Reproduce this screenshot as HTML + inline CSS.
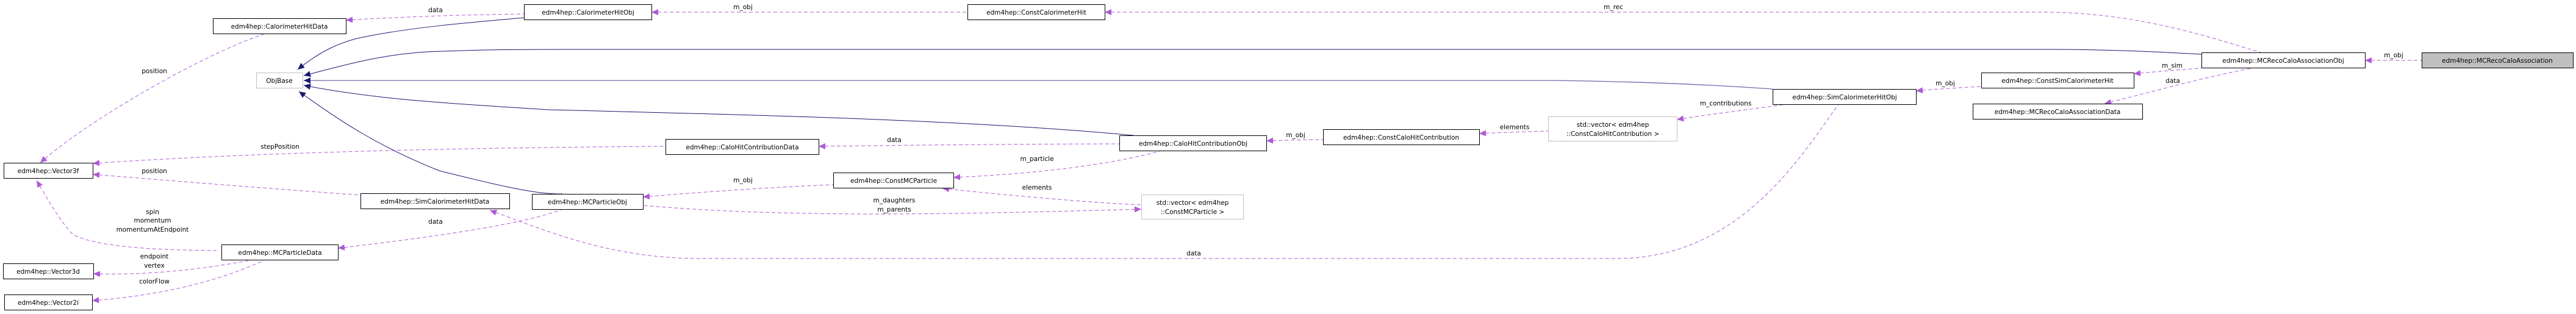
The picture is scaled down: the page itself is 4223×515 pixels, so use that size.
<!DOCTYPE html>
<html><head><meta charset="utf-8"><style>
html,body{margin:0;padding:0;background:#fff;}
svg{display:block;}
text{font-family:"DejaVu Sans","Liberation Sans",sans-serif;font-size:10.5px;fill:#000;}
.n{fill:#fff;stroke:#000;stroke-width:1;}
.g{fill:#fff;stroke:#bfbfbf;stroke-width:1;}
.p{fill:none;stroke:#9a32cd;stroke-width:1;stroke-dasharray:6,4;opacity:.8;}
.b{fill:none;stroke:#191970;stroke-width:1;}
</style></head><body>
<svg width="4223" height="515" viewBox="0 0 4223 515" xmlns="http://www.w3.org/2000/svg">
<defs>
<marker id="pa" markerUnits="userSpaceOnUse" markerWidth="12" markerHeight="10" refX="0" refY="5" orient="auto"><path d="M0,5 L11,0 L11,10 Z" fill="#9a32cd"/></marker>
<marker id="ba" markerUnits="userSpaceOnUse" markerWidth="12" markerHeight="10" refX="0" refY="5" orient="auto"><path d="M0,5 L11,0 L11,10 Z" fill="#191970"/></marker>
</defs>

<path class="b" marker-start="url(#ba)" d="M488,114 C520,88 555,68 600,60 C680,44 780,36 859,29"/>
<path class="b" marker-start="url(#ba)" d="M498,124 C560,108 620,90 700,85 C800,81 850,81 950,81 L3350,81 C3450,81 3520,84 3609,89"/>
<path style="fill:none;stroke:#6b6baa;stroke-width:1.3" marker-start="url(#ba)" d="M498,132 L2550,132 C2700,134 2820,140 2906,146"/>
<path class="b" marker-start="url(#ba)" d="M498,140 C600,160 700,168 900,180 C1300,190 1600,198 1858,222"/>
<path class="b" marker-start="url(#ba)" d="M490,150 C560,200 620,240 720,280 C800,300 880,320 922,318"/>

<path class="p" marker-start="url(#pa)" d="M567,33 C650,28 760,24 859,23"/>
<path class="p" marker-start="url(#pa)" d="M1068,20 L1586,20"/>
<path class="p" marker-start="url(#pa)" d="M66,267 C140,200 330,90 435,55"/>
<path class="p" marker-start="url(#pa)" d="M152,268 C450,248 800,242 1091,240"/>
<path class="p" marker-start="url(#pa)" d="M152,286 C300,298 450,310 591,320"/>
<path class="p" marker-start="url(#pa)" d="M60,296 C80,330 100,365 120,385 C160,405 250,410 355,411"/>
<path class="p" marker-start="url(#pa)" d="M153,449 C250,452 340,440 410,427"/>
<path class="p" marker-start="url(#pa)" d="M151,493 C250,486 350,465 433,427"/>
<path class="p" marker-start="url(#pa)" d="M554,407 C700,390 860,368 922,343"/>
<path class="p" marker-start="url(#pa)" d="M1054,323 C1150,315 1280,306 1366,303"/>
<path class="p" marker-start="url(#pa)" d="M1871,343 C1700,348 1560,351 1420,351 C1250,350 1150,345 1054,337"/>
<path class="p" marker-start="url(#pa)" d="M1545,309 C1650,320 1780,332 1871,336"/>
<path class="p" marker-start="url(#pa)" d="M1563,291 C1700,285 1820,270 1901,248"/>
<path class="p" marker-start="url(#pa)" d="M1342,240 C1500,238 1700,236 1835,236"/>
<path class="p" marker-start="url(#pa)" d="M2076,231 C2110,230 2140,229 2169,229"/>
<path class="p" marker-start="url(#pa)" d="M2425,219 C2470,217 2500,216 2538,215"/>
<path class="p" marker-start="url(#pa)" d="M2749,196 C2820,185 2880,178 2928,171"/>
<path class="p" marker-start="url(#pa)" d="M803,345 C900,380 1000,424 1150,424 L2650,424 C2850,424 2950,260 3014,171"/>
<path class="p" marker-start="url(#pa)" d="M3141,149 C3180,146 3220,143 3248,142"/>
<path class="p" marker-start="url(#pa)" d="M3498,121 C3540,117 3580,114 3615,111"/>
<path class="p" marker-start="url(#pa)" d="M3450,170 C3530,150 3620,125 3696,111"/>
<path class="p" marker-start="url(#pa)" d="M1811,20 L3350,20 C3500,20 3620,60 3706,86"/>
<path class="p" marker-start="url(#pa)" d="M3877,99 L3970,99"/>

<g text-anchor="middle">
<text x="714" y="20">data</text>
<text x="1218" y="15">m_obj</text>
<text x="2645" y="15">m_rec</text>
<text x="253" y="120">position</text>
<text x="459" y="244">stepPosition</text>
<text x="253" y="284">position</text>
<text x="250" y="351">spin</text>
<text x="250" y="365">momentum</text>
<text x="250" y="380">momentumAtEndpoint</text>
<text x="714" y="367">data</text>
<text x="253" y="424">endpoint</text>
<text x="253" y="439">vertex</text>
<text x="253" y="465">colorFlow</text>
<text x="1466" y="233">data</text>
<text x="1218" y="299">m_obj</text>
<text x="1466" y="332">m_daughters</text>
<text x="1466" y="347">m_parents</text>
<text x="1700" y="264">m_particle</text>
<text x="1700" y="311">elements</text>
<text x="1957" y="419">data</text>
<text x="2124" y="225">m_obj</text>
<text x="2483" y="212">elements</text>
<text x="2829" y="173">m_contributions</text>
<text x="3189" y="140">m_obj</text>
<text x="3561" y="111">m_sim</text>
<text x="3562" y="136">data</text>
<text x="3924" y="94">m_obj</text>
</g>

<g text-anchor="middle">
<rect class="n" x="349.5" y="30.5" width="218" height="25"/><text x="458" y="47">edm4hep::CalorimeterHitData</text>
<rect class="g" x="420.5" y="119.5" width="76" height="25"/><text x="458" y="136">ObjBase</text>
<rect class="n" x="6.5" y="267.5" width="146" height="25"/><text x="79" y="284">edm4hep::Vector3f</text>
<rect class="n" x="591.5" y="317.5" width="244" height="25"/><text x="713" y="334">edm4hep::SimCalorimeterHitData</text>
<rect class="n" x="363.5" y="401.5" width="191" height="25"/><text x="459" y="418">edm4hep::MCParticleData</text>
<rect class="n" x="5.5" y="432.5" width="148" height="25"/><text x="79" y="449">edm4hep::Vector3d</text>
<rect class="n" x="7.5" y="483.5" width="144" height="25"/><text x="79" y="500">edm4hep::Vector2i</text>
<rect class="n" x="859.5" y="7.5" width="209" height="25"/><text x="964" y="24">edm4hep::CalorimeterHitObj</text>
<rect class="n" x="1586.5" y="7.5" width="225" height="25"/><text x="1699" y="24">edm4hep::ConstCalorimeterHit</text>
<rect class="n" x="1091.5" y="228.5" width="251" height="25"/><text x="1217" y="245">edm4hep::CaloHitContributionData</text>
<rect class="n" x="1366.5" y="283.5" width="197" height="25"/><text x="1465" y="300">edm4hep::ConstMCParticle</text>
<rect class="n" x="872.5" y="318.5" width="182" height="25"/><text x="963" y="335">edm4hep::MCParticleObj</text>
<rect class="n" x="1835.5" y="222.5" width="241" height="25"/><text x="1956" y="239">edm4hep::CaloHitContributionObj</text>
<rect class="n" x="2169.5" y="212.5" width="256" height="25"/><text x="2297" y="229">edm4hep::ConstCaloHitContribution</text>
<rect class="g" x="1871.5" y="319.5" width="167" height="40"/><text x="1955" y="336">std::vector&lt; edm4hep</text><text x="1955" y="351">::ConstMCParticle &gt;</text>
<rect class="n" x="2906.5" y="146.5" width="235" height="25"/><text x="3024" y="163">edm4hep::SimCalorimeterHitObj</text>
<rect class="g" x="2538.5" y="191.5" width="211" height="40"/><text x="2644" y="208">std::vector&lt; edm4hep</text><text x="2644" y="223">::ConstCaloHitContribution &gt;</text>
<rect class="n" x="3248.5" y="119.5" width="250" height="25"/><text x="3373" y="136">edm4hep::ConstSimCalorimeterHit</text>
<rect class="n" x="3234.5" y="170.5" width="278" height="25"/><text x="3373" y="187">edm4hep::MCRecoCaloAssociationData</text>
<rect class="n" x="3609.5" y="86.5" width="268" height="25"/><text x="3743" y="103">edm4hep::MCRecoCaloAssociationObj</text>
<rect x="3970.5" y="86.5" width="248" height="25" fill="#bfbfbf" stroke="#000"/><text x="4094" y="103">edm4hep::MCRecoCaloAssociation</text>
</g>
</svg>
</body></html>
